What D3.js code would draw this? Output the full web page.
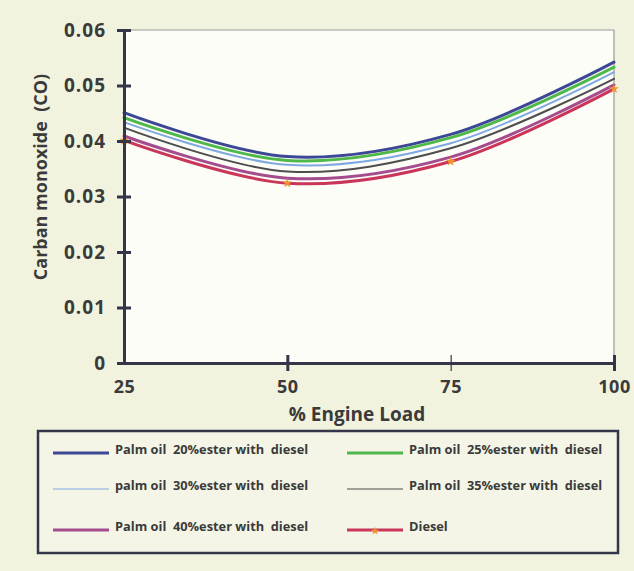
<!DOCTYPE html>
<html>
<head>
<meta charset="utf-8">
<script src="https://cdn.jsdelivr.net/npm/d3@7"></script>
<style>
  html, body { margin: 0; padding: 0; background: #f1f3de; }
  svg { display: block; }
</style>
</head>
<body>
<svg id="chart" width="634" height="571"></svg>
<script>
// ---- data ----
const loads = [25, 50, 75, 100];
const xTickLabels = ["25", "50", "75", "100"];
const yTicks = [0, 0.01, 0.02, 0.03, 0.04, 0.05, 0.06];
const yTickLabels = ["0", "0.01", "0.02", "0.03", "0.04", "0.05", "0.06"];

const seriesNames = [
  "Palm oil  20%ester with  diesel",
  "Palm oil  25%ester with  diesel",
  "palm oil  30%ester with  diesel",
  "Palm oil  35%ester with  diesel",
  "Palm oil  40%ester with  diesel",
  "Diesel"
];
const pct20 = [0.0451, 0.0372, 0.0412, 0.0542];
const pct25 = [0.0442, 0.0365, 0.0406, 0.0533];
const pct30 = [0.0434, 0.0357, 0.0396, 0.0524];
const pct35 = [0.0424, 0.0345, 0.0387, 0.0512];
const pct40 = [0.0409, 0.0333, 0.0371, 0.0501];
const diesel = [0.0401, 0.0324, 0.0363, 0.0494];

const seriesValues = [pct20, pct25, pct30, pct35, pct40, diesel];
const seriesColors = ["#3c4796", "#4fb84a", "#7fa8e2", "#4d4d4d", "#a44c8e", "#c9365a"];
const seriesWidths = [3, 3, 2, 2, 3, 3];
const legendWidths = [3, 3, 1.2, 1.2, 3, 3];

// ---- layout ----
(function () {
const svg = d3.select("#chart");
const pLeft = 124, pRight = 614, pTop = 30, pBottom = 363;
const x = d3.scaleLinear().domain([25, 100]).range([pLeft, pRight]);
const y = d3.scaleLinear().domain([0, 0.06]).range([pBottom, pTop]);
const font = "'Open Sans', sans-serif";

svg.append("rect").attr("x", pLeft).attr("y", pTop)
  .attr("width", pRight - pLeft).attr("height", pBottom - pTop)
  .attr("fill", "#fcfdf6");

svg.append("line").attr("x1", pLeft).attr("x2", pRight).attr("y1", pTop).attr("y2", pTop)
  .attr("stroke", "#9a9a9a").attr("stroke-width", 1.2);
svg.append("line").attr("x1", pRight).attr("x2", pRight).attr("y1", pTop).attr("y2", pBottom)
  .attr("stroke", "#9a9a9a").attr("stroke-width", 1.2);

const line = d3.line()
  .x((d, i) => x(loads[i]))
  .y(d => y(d))
  .curve(d3.curveCatmullRom.alpha(0.5));

seriesValues.forEach((vals, k) => {
  svg.append("path")
    .datum(vals)
    .attr("fill", "none")
    .attr("stroke", seriesColors[k])
    .attr("stroke-width", seriesWidths[k])
    .attr("stroke-linecap", "round")
    .attr("d", line);
});

svg.append("g").selectAll("path")
  .data(diesel)
  .join("path")
  .attr("d", d3.symbol(d3.symbolStar, 30))
  .attr("transform", (d, i) => `translate(${x(loads[i])},${y(d)})`)
  .attr("fill", "#f0932f");

const yAxis = d3.axisLeft(y)
  .tickValues(yTicks)
  .tickFormat((d, i) => yTickLabels[i])
  .tickSizeInner(0).tickSizeOuter(0).tickPadding(18);
const gy = svg.append("g").attr("transform", `translate(${pLeft},0)`).call(yAxis);
gy.select(".domain").attr("stroke", "#35354a").attr("stroke-width", 3);
gy.selectAll(".tick line").remove();
gy.selectAll(".tick").append("line")
  .attr("x1", -7).attr("x2", 7)
  .attr("stroke", "#35354a").attr("stroke-width", 3);
gy.selectAll(".tick text")
  .attr("font-family", font)
  .attr("font-weight", "bold")
  .attr("font-size", 19)
  .attr("letter-spacing", 1)
  .attr("fill", "#3a3a3a");

const xAxis = d3.axisBottom(x)
  .tickValues(loads)
  .tickFormat((d, i) => xTickLabels[i])
  .tickSizeInner(0).tickSizeOuter(0).tickPadding(17);
const gx = svg.append("g").attr("transform", `translate(0,${pBottom})`).call(xAxis);
gx.select(".domain").attr("stroke", "#35354a").attr("stroke-width", 3);
gx.selectAll(".tick line").remove();
gx.selectAll(".tick").filter(d => d !== 25).append("line")
  .attr("y1", -8).attr("y2", 8)
  .attr("stroke", "#35354a").attr("stroke-width", d => d === 75 ? 1.2 : 3);
gx.selectAll(".tick text")
  .attr("font-family", font)
  .attr("font-weight", "bold")
  .attr("font-size", 18)
  .attr("letter-spacing", 0.5)
  .attr("fill", "#3a3a3a");

svg.append("text")
  .attr("x", 357).attr("y", 421)
  .attr("text-anchor", "middle")
  .attr("font-family", font)
  .attr("font-weight", "bold")
  .attr("font-size", 19)
  .attr("fill", "#3a3a3a")
  .text("% Engine Load");

svg.append("text")
  .attr("transform", "translate(47,177) rotate(-90)")
  .attr("text-anchor", "middle")
  .attr("font-family", font)
  .attr("font-weight", "bold")
  .attr("font-size", 18)
  .attr("fill", "#3a3a3a")
  .style("white-space", "pre")
  .text("Carban monoxide  (CO)");

svg.append("rect")
  .attr("x", 38).attr("y", 431).attr("width", 580).attr("height", 122)
  .attr("fill", "#f4f5e6")
  .attr("stroke", "#35354a").attr("stroke-width", 2.5);

const legendCols = [53, 347];
const legendRows = [453, 489, 530];
seriesNames.forEach((name, k) => {
  const col = k % 2, row = Math.floor(k / 2);
  const lx = legendCols[col], ly = legendRows[row];
  const g = svg.append("g");
  g.append("line")
    .attr("x1", lx).attr("x2", lx + 56).attr("y1", ly).attr("y2", ly)
    .attr("stroke", seriesColors[k]).attr("stroke-width", legendWidths[k]);
  if (k === 5) {
    g.append("path")
      .attr("d", d3.symbol(d3.symbolStar, 22))
      .attr("transform", `translate(${lx + 28},${ly + 1})`)
      .attr("fill", "#f0932f");
  }
  g.append("text")
    .attr("x", lx + 62).attr("y", ly)
    .attr("dy", "0.1em")
    .attr("font-family", font)
    .attr("font-weight", "bold")
    .attr("font-size", 12.8)
    .attr("fill", "#3a3a3a")
    .style("white-space", "pre")
    .text(name);
});
})();
</script>
</body>
</html>
